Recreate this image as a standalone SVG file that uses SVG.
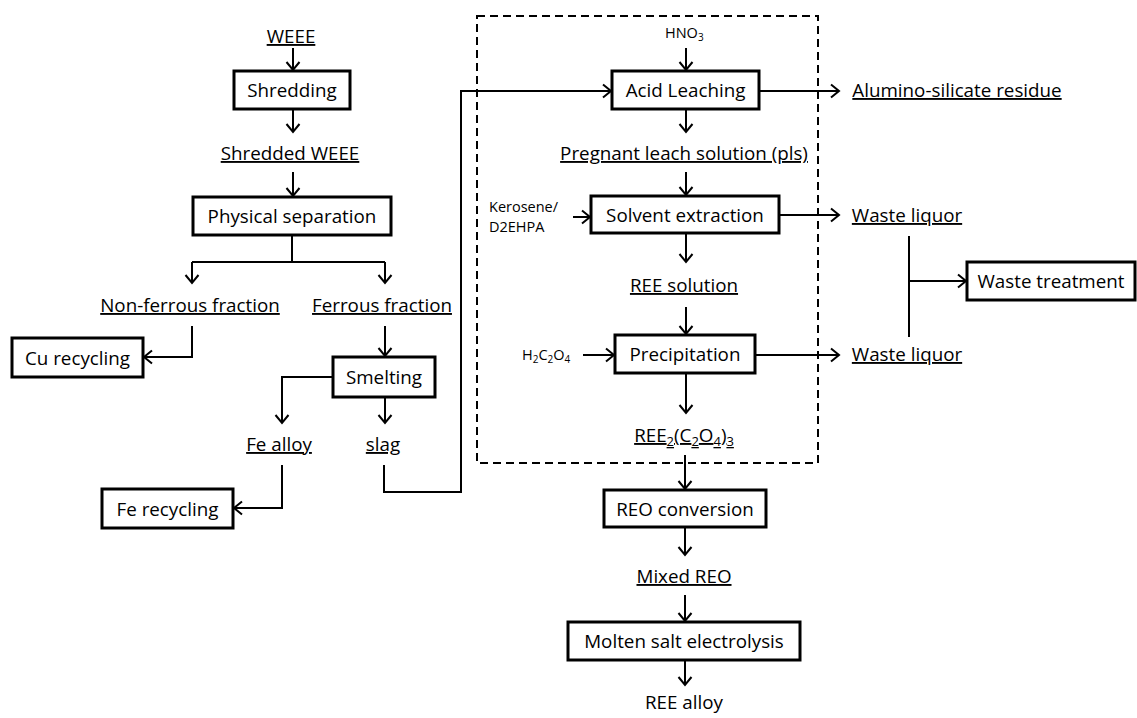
<svg xmlns="http://www.w3.org/2000/svg" width="1137" height="718" viewBox="0 0 1137 718">
<defs>
<marker id="arr" viewBox="-10 -8 12 16" markerWidth="12" markerHeight="16" refX="0" refY="0" orient="auto" markerUnits="userSpaceOnUse">
<path d="M-8,-6.5 L0,0 L-8,6.5" fill="none" stroke="#000" stroke-width="2"/>
</marker>
<style>
.box{fill:#fff;stroke:#000;stroke-width:3}
.t{font-family:"Open Sans","Liberation Sans",sans-serif;font-size:18.8px;fill:#000;text-anchor:middle}
.u{text-decoration:underline}
.s{font-family:"Open Sans","Liberation Sans",sans-serif;font-size:14.5px;fill:#000}
.c{fill:none;stroke:#000;stroke-width:2}
.a{marker-end:url(#arr)}
</style>
</defs>
<rect x="0" y="0" width="1137" height="718" fill="#fff"/>
<rect id="dashed-region" x="477" y="16" width="341" height="447" fill="none" stroke="#000" stroke-width="2" stroke-dasharray="8,5"/>
<g id="connectors">
<path class="c a" d="M293,48 V70"/>
<path class="c a" d="M293,109 V132"/>
<path class="c a" d="M293,172 V196"/>
<path class="c" d="M292,235 V262 M192,262 H385"/>
<path class="c a" d="M192,262 V283"/>
<path class="c a" d="M385,262 V283"/>
<path class="c a" d="M192,326 V357 H144"/>
<path class="c a" d="M385,326 V356"/>
<path class="c a" d="M333,377 H282 V423"/>
<path class="c a" d="M385,397 V423"/>
<path class="c a" d="M282,465 V508 H234"/>
<path class="c a" d="M384,465 V492 H461 V91 H611"/>
<path class="c a" d="M686,48 V70"/>
<path class="c a" d="M759,91 H839"/>
<path class="c a" d="M686,109 V132"/>
<path class="c a" d="M686,172 V195"/>
<path class="c a" d="M573,217 H590"/>
<path class="c a" d="M779,215 H839"/>
<path class="c a" d="M686,233 V262"/>
<path class="c a" d="M686,307 V334"/>
<path class="c a" d="M583,355 H614"/>
<path class="c a" d="M755,355 H839"/>
<path class="c a" d="M686,373 V413"/>
<path class="c a" d="M685,455 V489"/>
<path class="c a" d="M685,527 V555"/>
<path class="c a" d="M685,595 V621"/>
<path class="c a" d="M685,660 V685"/>
<path class="c" d="M909,236 V337"/>
<path class="c a" d="M909,281 H966"/>
</g>
<g id="weee"><text class="t u" x="291" y="43">WEEE</text></g>
<g id="shredding"><rect class="box" x="234" y="71" width="116" height="38"/><text class="t" x="292" y="97">Shredding</text></g>
<g id="shredded-weee"><text class="t u" x="290" y="160">Shredded WEEE</text></g>
<g id="physical-separation"><rect class="box" x="193" y="197" width="198" height="38"/><text class="t" x="292" y="223">Physical separation</text></g>
<g id="non-ferrous"><text class="t u" x="190" y="312">Non-ferrous fraction</text></g>
<g id="ferrous"><text class="t u" x="382" y="312">Ferrous fraction</text></g>
<g id="cu-recycling"><rect class="box" x="12" y="338" width="131" height="39"/><text class="t" x="77.5" y="365">Cu recycling</text></g>
<g id="smelting"><rect class="box" x="333" y="357" width="102" height="40"/><text class="t" x="384" y="384">Smelting</text></g>
<g id="fe-alloy"><text class="t u" x="279" y="451">Fe alloy</text></g>
<g id="slag"><text class="t u" x="383" y="451">slag</text></g>
<g id="fe-recycling"><rect class="box" x="102" y="489" width="131" height="39"/><text class="t" x="167.5" y="516">Fe recycling</text></g>
<g id="hno3"><text class="s" x="665" y="38">HNO<tspan font-size="10" dy="3">3</tspan></text></g>
<g id="acid-leaching"><rect class="box" x="612" y="71" width="147" height="38"/><text class="t" x="685.5" y="97">Acid Leaching</text></g>
<g id="alumino"><text class="t u" x="957" y="97">Alumino-silicate residue</text></g>
<g id="pls"><text class="t u" x="684" y="160">Pregnant leach solution (pls)</text></g>
<g id="kerosene"><text class="s" x="489" y="212">Kerosene/</text><text class="s" x="489" y="232">D2EHPA</text></g>
<g id="solvent-extraction"><rect class="box" x="591" y="196" width="188" height="37"/><text class="t" x="685" y="222">Solvent extraction</text></g>
<g id="waste-liquor-1"><text class="t u" x="907" y="222">Waste liquor</text></g>
<g id="ree-solution"><text class="t u" x="684" y="292">REE solution</text></g>
<g id="waste-treatment"><rect class="box" x="967" y="262" width="168" height="38"/><text class="t" x="1051" y="288">Waste treatment</text></g>
<g id="h2c2o4"><text class="s" x="522" y="360">H<tspan font-size="10" dy="3">2</tspan><tspan dy="-3">C</tspan><tspan font-size="10" dy="3">2</tspan><tspan dy="-3">O</tspan><tspan font-size="10" dy="3">4</tspan></text></g>
<g id="precipitation"><rect class="box" x="615" y="335" width="140" height="38"/><text class="t" x="685" y="361">Precipitation</text></g>
<g id="waste-liquor-2"><text class="t u" x="907" y="361">Waste liquor</text></g>
<g id="ree-oxalate"><text class="t u" x="684" y="442">REE<tspan font-size="13" dy="4">2</tspan><tspan dy="-4">(C</tspan><tspan font-size="13" dy="4">2</tspan><tspan dy="-4">O</tspan><tspan font-size="13" dy="4">4</tspan><tspan dy="-4">)</tspan><tspan font-size="13" dy="4">3</tspan></text></g>
<g id="reo-conversion"><rect class="box" x="604" y="490" width="162" height="37"/><text class="t" x="685" y="516">REO conversion</text></g>
<g id="mixed-reo"><text class="t u" x="684" y="583">Mixed REO</text></g>
<g id="molten-salt"><rect class="box" x="568" y="622" width="232" height="38"/><text class="t" x="684" y="648">Molten salt electrolysis</text></g>
<g id="ree-alloy"><text class="t" x="684" y="709">REE alloy</text></g>
</svg>
